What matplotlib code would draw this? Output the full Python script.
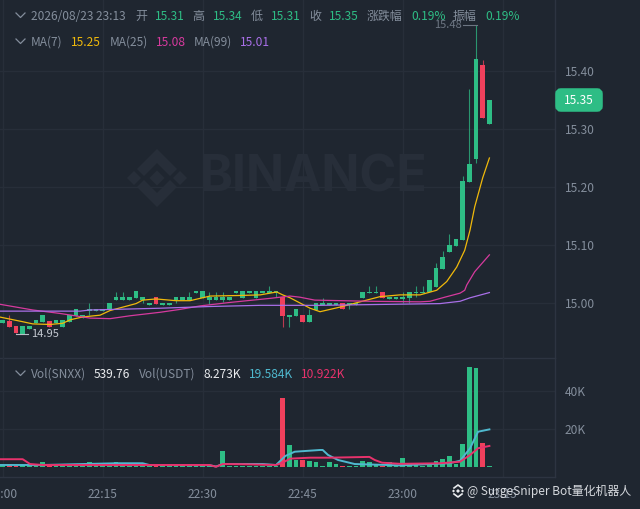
import matplotlib
matplotlib.use("Agg")
import matplotlib.pyplot as plt
from matplotlib.patches import FancyBboxPatch, Polygon

plt.rcParams['font.family'] = ['Noto Sans CJK SC', 'DejaVu Sans']

BG = '#1f2630'
GRID = '#272e39'
SEP = '#2d3441'
TXT = '#848e9c'
GREEN = '#2ebd85'
RED = '#f0405c'
YELLOW = '#f0b90b'
PINK = '#d63a9e'
PURPLE = '#a96fe8'

# minute after 22:00 is the candle index
opens = [14.966, 14.969, 14.960, 14.947, 14.956, 14.966, 14.967, 14.969, 14.965, 14.958,
         14.968, 14.978, 14.975, 14.986, 14.987, 14.986, 14.988, 15.006, 15.006, 15.006,
         15.008, 15.005, 14.996, 15.010, 14.996, 14.996, 15.006, 15.006, 15.006, 15.017,
         15.008, 15.005, 15.006, 15.006, 15.006, 15.017, 15.008, 15.017, 15.008, 15.017,
         15.017, 15.017, 15.010, 14.976, 14.978, 14.979, 14.968, 14.988, 14.997, 14.997,
         14.997, 15.000, 14.997, 14.997, 15.008, 15.017, 15.017, 15.019, 15.007, 15.007,
         15.007, 15.008, 15.017, 15.017, 15.019, 15.028, 15.058, 15.088, 15.098, 15.109,
         15.209, 15.249, 15.410, 15.309]
closes = [14.970, 14.958, 14.948, 14.960, 14.960, 14.970, 14.979, 14.958, 14.970, 14.970,
          14.979, 14.989, 14.980, 14.989, 14.989, 14.989, 15.000, 15.010, 15.010, 15.010,
          15.020, 15.010, 15.000, 14.998, 15.000, 15.000, 15.010, 15.010, 15.010, 15.020,
          15.020, 15.010, 15.010, 15.010, 15.010, 15.020, 15.020, 15.020, 15.020, 15.020,
          15.020, 15.020, 14.978, 14.979, 14.989, 14.968, 14.979, 15.000, 15.000, 15.000,
          15.000, 14.989, 15.000, 15.000, 15.019, 15.019, 15.019, 15.008, 15.010, 15.010,
          15.010, 15.019, 15.019, 15.019, 15.040, 15.060, 15.080, 15.100, 15.110, 15.210,
          15.240, 15.420, 15.319, 15.350]
# only the candles with a visible wick
highs = {1: 14.979, 13: 15.000, 17: 15.019, 18: 15.019, 28: 15.019, 31: 15.019, 32: 15.019,
         33: 15.019, 40: 15.029, 46: 14.989, 48: 15.008, 55: 15.029, 56: 15.029, 60: 15.019,
         62: 15.029, 63: 15.029, 65: 15.069, 66: 15.089, 67: 15.119, 69: 15.219, 70: 15.369,
         71: 15.479, 72: 15.419}
lows = {13: 14.979, 21: 15.000, 26: 15.000, 31: 14.999, 33: 15.001, 41: 15.010, 42: 14.959,
        43: 14.959, 52: 14.989, 60: 15.000, 61: 15.000, 62: 15.010, 71: 15.241}

ma7_t = [-0.5, 2.9, 4.5, 7.1, 9, 10.1, 12, 14.6, 16.1, 20, 21, 23, 26, 28.1, 29.6, 31.1, 35.6, 38.6,
         41.1, 42, 43.1, 44.6, 46.1, 47.6, 50.6, 53.6, 56.6, 59.6, 62.6, 65.1, 66.6, 68.1, 69.3,
         70.1, 70.8, 72, 73]
ma7 = [14.976, 14.968, 14.964, 14.963, 14.965, 14.971, 14.976, 14.979, 14.987, 14.999, 15.005,
       15.007, 15.004, 15.004, 15.008, 15.012, 15.013, 15.014, 15.019, 15.014, 15.009, 15.000,
       14.991, 14.985, 14.993, 15.002, 15.011, 15.014, 15.014, 15.022, 15.037, 15.062, 15.091,
       15.126, 15.166, 15.216, 15.250]
ma25_t = [-0.5, 4.5, 8.6, 13.1, 16.1, 19.1, 23.6, 26.6, 29.6, 34.1, 40.1, 43.1, 44.6, 46.8, 55.1,
          62.6, 64.1, 66.3, 68.6, 69.3, 69.6, 70.8, 73]
ma25 = [14.998, 14.988, 14.982, 14.974, 14.973, 14.978, 14.984, 14.989, 14.995, 15.001, 15.008,
        15.012, 15.010, 15.005, 15.003, 15.002, 15.003, 15.010, 15.017, 15.022, 15.031, 15.054,
        15.083]
ma99_t = [-0.5, 11.6, 13.1, 23.6, 31.1, 38.6, 47.6, 59.6, 65.6, 68.6, 70.1, 73]
ma99 = [14.986, 14.986, 14.988, 14.991, 14.994, 14.996, 14.996, 14.998, 14.999, 15.003, 15.009,
        15.018]

# volume in thousands
volume = [0.8, 1.9, 0.8, 1.2, 0.8, 0.8, 3.0, 1.0, 0.7, 0.7, 0.7, 0.7, 1.0, 3.1, 2.0, 1.4, 1.0, 3.0,
          0.8, 0.8, 0.7, 0.7, 0.7, 0.7, 2.0, 0.7, 0.7, 0.8, 0.7, 0.7, 0.8, 0.7, 0.7, 8.7, 0.8, 0.8,
          0.8, 0.7, 0.8, 0.7, 0.7, 0.8, 36.0, 11.6, 3.8, 3.8, 3.4, 2.8, 1.0, 3.0, 1.7, 0.7, 1.0,
          0.7, 3.4, 2.8, 1.7, 0.7, 3.1, 0.7, 4.7, 1.7, 1.4, 0.7, 1.7, 3.6, 4.2, 6.0, 2.0, 12.0,
          52.0, 51.5, 12.5, 1.0]
vol_red_t = [-0.5, 3, 4.1, 6, 31, 32, 33, 36, 41, 42, 43.1, 46.1, 49, 55, 55.8, 56.9, 59.6, 65.6,
             68.6, 70.1, 71.3, 73]
vol_red = [4.3, 4.3, 1.8, 1.3, 1.3, 0.4, 1.8, 1.7, 1.3, 2.5, 4.6, 5.1, 5.1, 5.5, 3.9, 2.5, 1.9, 2.2,
           3.0, 6.5, 10.0, 11.2]
vol_cyan_t = [-0.5, 6, 17, 21, 22, 31, 32, 33, 39, 41, 42.4, 43.8, 47.6, 48, 48.8, 50.3, 52.8, 59.6,
              67, 68.6, 70.1, 71.3, 73]
vol_cyan = [1.3, 1.3, 2.2, 2.2, 1.3, 1.2, 0.5, 1.8, 1.8, 1.3, 6.0, 8.2, 9.1, 9.1, 6.5, 3.9, 1.8, 1.1,
            2.2, 3.5, 10.0, 18.6, 19.8]

price_ticks = [15.00, 15.10, 15.20, 15.30, 15.40]
vol_ticks = [20, 40]
time_ticks = [0, 15, 30, 45, 60, 75]
time_labels = ['22:00', '22:15', '22:30', '22:45', '23:00', '23:15']

W, H = 640, 509
fig = plt.figure(figsize=(W / 100, H / 100), dpi=100, facecolor=BG)


def pane(top, bottom):
    a = fig.add_axes([0, 1 - bottom / H, 555 / W, (bottom - top) / H], facecolor='none', zorder=2)
    for s in a.spines.values():
        s.set_color(SEP)
        s.set_linewidth(1)
    a.spines['left'].set_visible(False)
    a.yaxis.tick_right()
    a.tick_params(length=0, labelcolor=TXT, labelsize=8.6, pad=7)
    a.grid(color=GRID, linewidth=1)
    a.set_axisbelow(True)
    a.set_xlim(-0.405, 82.84)
    a.set_xticks(time_ticks)
    return a


# layer behind the panes for the watermark, layer on top for the header texts
back = fig.add_axes([0, 0, 1, 1], zorder=1)
back.set_xlim(0, W)
back.set_ylim(H, 0)
back.axis('off')
over = fig.add_axes([0, 0, 1, 1], zorder=3, facecolor='none')
over.set_xlim(0, W)
over.set_ylim(H, 0)
over.axis('off')

ax = pane(0, 358)
ax.set_ylim(14.9052, 15.5224)
ax.set_yticks(price_ticks)
ax.set_yticklabels(['%.2f' % p for p in price_ticks])
ax.tick_params(axis='x', labelbottom=False)
ax.spines['top'].set_visible(False)

vax = pane(358, 477)
vax.set_ylim(-4.94, 56.9)
vax.set_yticks(vol_ticks)
vax.set_yticklabels(['%dK' % v for v in vol_ticks])
vax.set_xticklabels(time_labels)
vax.tick_params(axis='x', pad=8)
vax.spines['top'].set_visible(False)

for i in range(len(opens)):
    o, c = opens[i], closes[i]
    col = GREEN if c >= o else RED
    hi = highs.get(i, max(o, c))
    lo = lows.get(i, min(o, c))
    ax.vlines(i, lo, hi, color=col, linewidth=0.8, alpha=0.75)
    ax.bar(i, abs(c - o), bottom=min(o, c), width=0.72, color=col, linewidth=0)
    vax.bar(i, volume[i], width=0.72, color=col, linewidth=0)

ax.plot(ma7_t, ma7, color=YELLOW, linewidth=0.9)
ax.plot(ma25_t, ma25, color=PINK, linewidth=0.9)
ax.plot(ma99_t, ma99, color=PURPLE, linewidth=0.9)
vax.plot(vol_cyan_t, vol_cyan, color='#4fb9cf', linewidth=1.4)
vax.plot(vol_red_t, vol_red, color='#e8326c', linewidth=1.4)

# extreme markers
ax.plot([2.0, 3.8], [14.947, 14.947], color='#b7bdc6', linewidth=0.8)
ax.text(4.3, 14.947, '14.95', color='#c4c9d1', fontsize=8, va='center', ha='left')
ax.plot([69.1, 71.2], [15.479, 15.479], color='#6d7683', linewidth=0.8)
ax.text(68.9, 15.479, '15.48', color='#6d7683', fontsize=8, va='center', ha='right')


def label(x, y, s, col=TXT, size=8.6):
    over.text(x, y, s, color=col, fontsize=size, va='center', ha='left')


def chevron(y):
    over.plot([16, 20.5, 25], [y - 2, y + 2.5, y - 2], color=TXT, linewidth=0.9)


chevron(15)
for x, s, col in [(31, '2026/08/23 23:13', TXT), (135, '开', TXT), (155, '15.31', GREEN),
                  (192, '高', TXT), (213, '15.34', GREEN), (251, '低', TXT), (271, '15.31', GREEN),
                  (309, '收', TXT), (329, '15.35', GREEN), (367, '涨跌幅', TXT), (411, '0.19%', GREEN),
                  (453, '振幅', TXT), (485, '0.19%', GREEN)]:
    label(x, 16, s, col)
chevron(41)
for x, s, col in [(31, 'MA(7)', TXT), (71, '15.25', YELLOW), (110, 'MA(25)', TXT), (156, '15.08', PINK),
                  (194, 'MA(99)', TXT), (240, '15.01', PURPLE)]:
    label(x, 42, s, col)
chevron(373)
for x, s, col in [(31, 'Vol(SNXX)', TXT), (94, '539.76', '#eaecef'), (139, 'Vol(USDT)', TXT),
                  (203, '8.273K', '#eaecef'), (249, '19.584K', '#4fb9cf'), (301, '10.922K', '#e8326c')]:
    label(x, 374, s, col)

# last price badge
over.add_patch(FancyBboxPatch((558, 91), 42, 18, boxstyle='round,pad=0,rounding_size=3',
                              mutation_aspect=1, facecolor=GREEN, edgecolor=GREEN, linewidth=4))
over.text(579, 100, '15.35', color='white', fontsize=8.6, ha='center', va='center')

# BINANCE watermark
WM = '#272e39'
back.text(200, 178, 'BINANCE', color=WM, fontsize=36, family='Inter', fontweight='bold', va='center', ha='left')
for cx, cy, r in [(157, 178, 7.5), (134, 178, 7), (180, 178, 7)]:
    back.add_patch(Polygon([(cx - r, cy), (cx, cy - r), (cx + r, cy), (cx, cy + r)], facecolor=WM))
back.add_patch(Polygon([(157, 149), (177, 169), (170, 176), (157, 163), (144, 176), (137, 169)], facecolor=WM))
back.add_patch(Polygon([(157, 207), (177, 187), (170, 180), (157, 193), (144, 180), (137, 187)], facecolor=WM))

# footer
for cx, cy, r in [(458, 491, 2), (453.5, 491, 1.5), (462.5, 491, 1.5)]:
    over.add_patch(Polygon([(cx - r, cy), (cx, cy - r), (cx + r, cy), (cx, cy + r)], facecolor='#eaecef'))
over.plot([454, 458, 462], [488, 485, 488], color='#eaecef', linewidth=1.2)
over.plot([454, 458, 462], [494, 497, 494], color='#eaecef', linewidth=1.2)
over.text(467, 491, '@ SurgeSniper Bot量化机器人', color='#d5d8dd', fontsize=8.6, va='center', ha='left')

fig.savefig('out.png', dpi=100, facecolor=BG)
